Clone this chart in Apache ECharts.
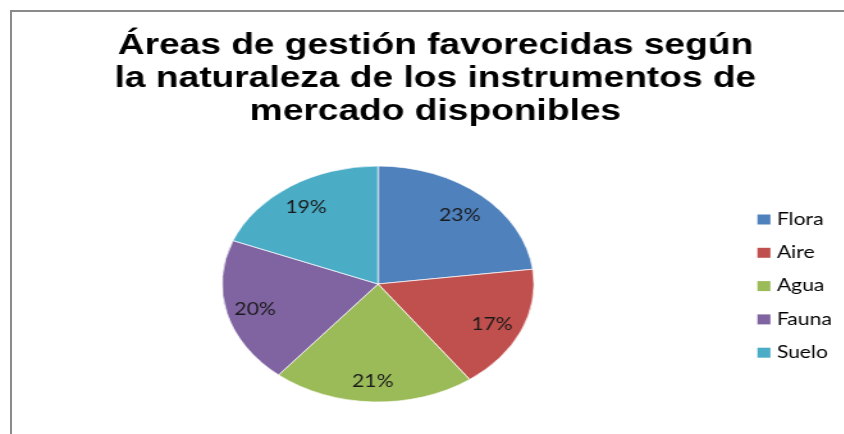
<!DOCTYPE html>
<html>
<head>
<meta charset="utf-8">
<script src="https://cdn.jsdelivr.net/npm/echarts@6/dist/echarts.min.js"></script>
<style>
  html, body { margin: 0; padding: 0; background: #fff; overflow: hidden; }
  #frame { position: absolute; left: 10px; top: 10px; width: 900px; height: 500px;
           border-left: 2px solid #8a8a8a; border-top: 2px solid #8a8a8a; }
  #pie  { position: absolute; left: 0; top: 0; width: 844px; height: 434px; }
  #main { position: absolute; left: 0; top: 0; height: 434px; transform-origin: 0 0; }
</style>
</head>
<body>
<div id="frame"></div>
<div id="pie"></div>
<div id="main"></div>
<script>
// Chart content
const titleLines = [
  'Áreas de gestión favorecidas según',
  'la naturaleza de los instrumentos de',
  'mercado disponibles'
];
const categories = ['Flora', 'Aire', 'Agua', 'Fauna', 'Suelo'];
const shares = [23, 17, 21, 20, 19];
const palette = ['#4F81BD', '#C0504D', '#9BBB59', '#8064A2', '#4BACC6'];

// Layout: the pie is drawn as an ellipse (horizontal stretch), text is widened less
const PIE_X = 378, PIE_Y = 284, PIE_R = 118;
const PIE_STRETCH = 1.322;
const TEXT_STRETCH = 1.28;
const W = 844;

const pieData = categories.map((name, i) => ({ name, value: shares[i] }));

// Layer 1: the pie itself, stretched horizontally around its centre
const pieEl = document.getElementById('pie');
pieEl.style.transformOrigin = PIE_X + 'px ' + PIE_Y + 'px';
pieEl.style.transform = 'scaleX(' + PIE_STRETCH + ')';
const pieChart = echarts.init(pieEl, null, { renderer: 'canvas' });
pieChart.setOption({
  animation: false,
  color: palette,
  series: [{
    type: 'pie',
    silent: true,
    center: [PIE_X, PIE_Y],
    radius: PIE_R,
    startAngle: 90,
    clockwise: true,
    label: { show: false },
    labelLine: { show: false },
    itemStyle: { borderColor: '#ffffff', borderWidth: 0.7 },
    data: pieData
  }]
});

// Layer 2: title, legend and percentage labels
const TS = TEXT_STRETCH;
const mainEl = document.getElementById('main');
mainEl.style.width = (W / TS) + 'px';
mainEl.style.transform = 'scaleX(' + TS + ')';
const chart = echarts.init(mainEl, null, { renderer: 'canvas' });
const cxLocal = PIE_X / TS;

chart.setOption({
  animation: false,
  title: {
    text: titleLines.join('\n'),
    left: 429 / TS,
    textAlign: 'center',
    top: 24,
    textStyle: {
      fontFamily: 'Liberation Sans',
      fontWeight: 'bold',
      fontSize: 29,
      lineHeight: 33,
      color: '#000'
    }
  },
  legend: {
    orient: 'vertical',
    left: 751 / TS,
    top: 206,
    itemWidth: 13 / TS,
    itemHeight: 10,
    itemGap: 16.3,
    icon: 'rect',
    selectedMode: false,
    textStyle: { fontFamily: 'Lato', fontSize: 16.5, lineHeight: 16, color: '#000' },
    data: categories.map((name, i) => ({ name, itemStyle: { color: palette[i], opacity: 1 } }))
  },
  series: [{
    type: 'pie',
    silent: true,
    center: [cxLocal, PIE_Y],
    radius: [66, PIE_R],
    startAngle: 90,
    clockwise: true,
    itemStyle: { color: 'rgba(0,0,0,0)' },
    labelLine: { show: false },
    label: {
      show: true,
      position: 'inside',
      formatter: p => p.value + '%',
      fontFamily: 'Lato',
      fontSize: 16.5,
      color: '#1a1a1a'
    },
    labelLayout: function (p) {
      const r = p.labelRect;
      const lx = r.x + r.width / 2;
      const ly = r.y + r.height / 2;
      return {
        x: cxLocal + (lx - cxLocal) * PIE_STRETCH / TS - 1,
        y: ly + 2.5,
        align: 'center',
        verticalAlign: 'middle'
      };
    },
    data: pieData
  }]
});
</script>
</body>
</html>
